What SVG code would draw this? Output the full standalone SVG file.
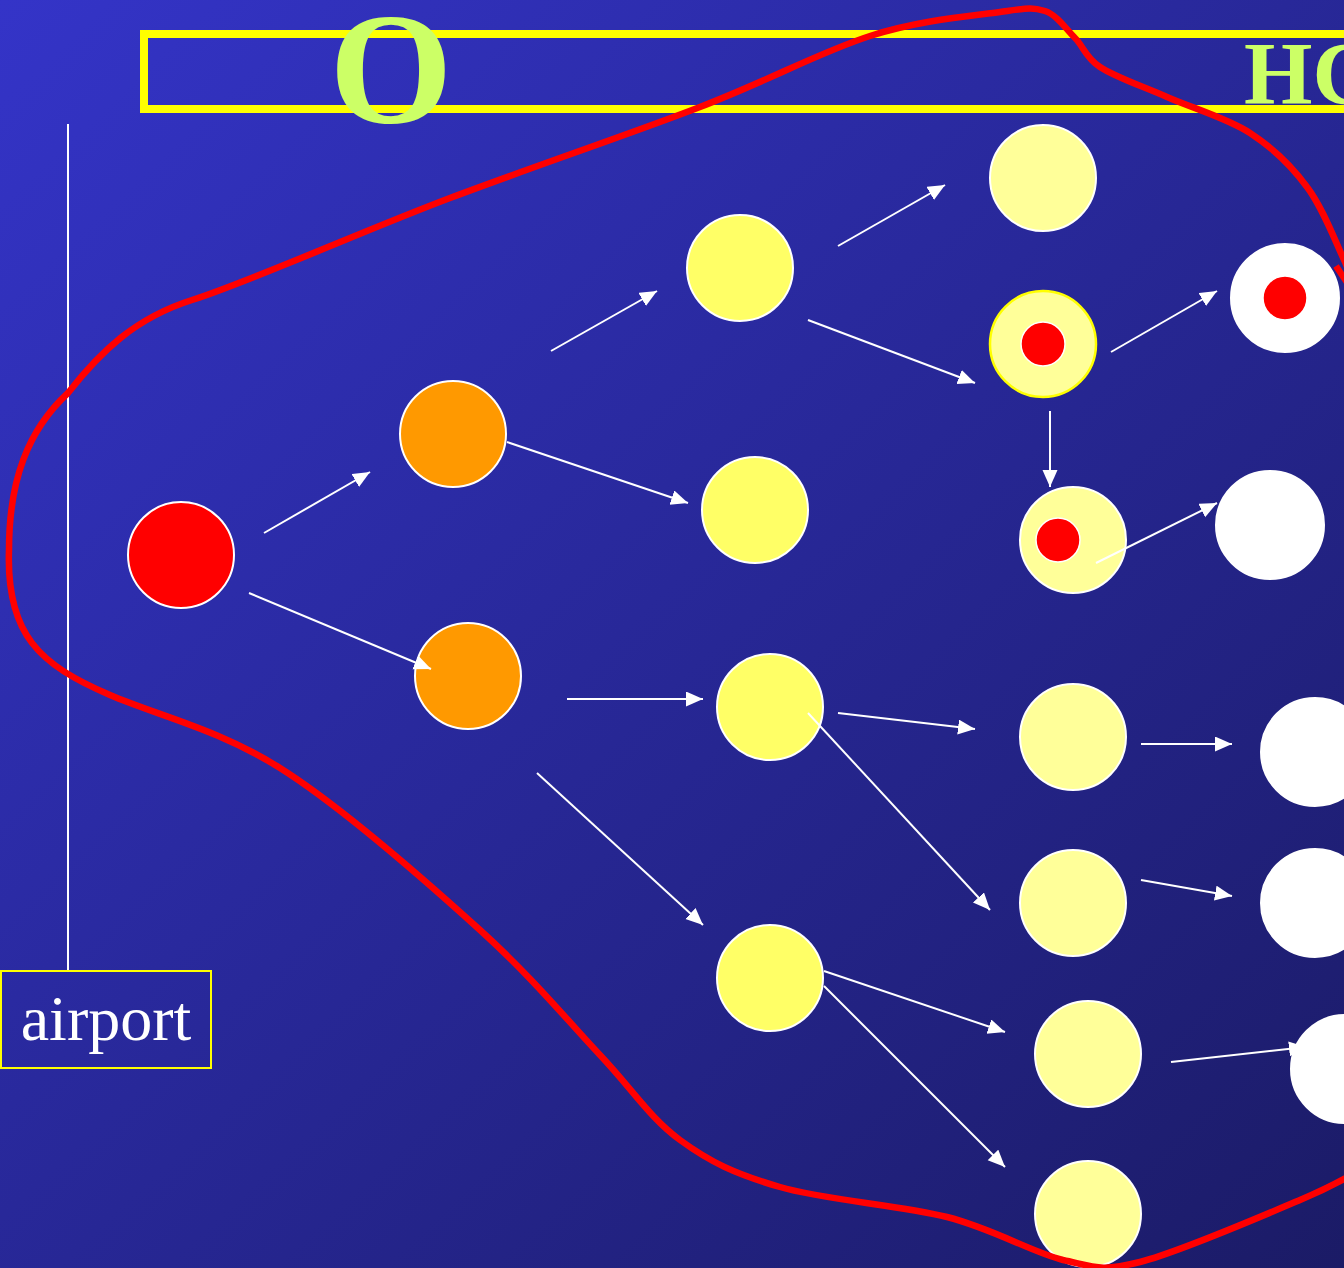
<svg xmlns="http://www.w3.org/2000/svg" width="1344" height="1268" viewBox="0 0 1344 1268">
<defs>
<linearGradient id="bg" x1="0" y1="0" x2="1" y2="1">
<stop offset="0" stop-color="#3434C8"/>
<stop offset="1" stop-color="#1B1B66"/>
</linearGradient>
<marker id="ah" markerUnits="userSpaceOnUse" markerWidth="18" markerHeight="16" refX="17" refY="7.5" orient="auto">
<path d="M0,0 L17,7.5 L0,15 z" fill="#FFFFFF"/>
</marker>
<style>
.n{stroke:#FFFFFF;stroke-width:2}
.red{fill:#FF0000}
.org{fill:#FF9900}
.yel{fill:#FFFF66}
.pal{fill:#FFFF99}
.wht{fill:#FFFFFF}
.inner{fill:#FF0000;stroke:#FFFFFF;stroke-width:1.5}
.c line{stroke:#FFFFFF;stroke-width:2;marker-end:url(#ah)}
.title{font-family:"Liberation Serif","Times New Roman",serif;font-weight:bold;fill:#CCFF66}
</style>
</defs>
<rect x="0" y="0" width="1344" height="1268" fill="url(#bg)"/>

<g id="title">
<rect x="144" y="34" width="1260" height="75" fill="none" stroke="#FFFF00" stroke-width="8"/>
<text class="title" x="391" y="122" font-size="158" text-anchor="middle">O</text>
<text class="title" x="1244" y="103" font-size="88">HC</text>
</g>

<g id="airport">
<line x1="68" y1="124" x2="68" y2="971" stroke="#FFFFFF" stroke-width="2"/>
<rect x="1" y="971" width="210" height="97" fill="none" stroke="#FFFF00" stroke-width="2"/>
<text x="106" y="1040" font-family="Liberation Serif, Times New Roman, serif" font-size="64" fill="#FFFFFF" text-anchor="middle">airport</text>
</g>

<g id="n1"><circle class="n red" cx="181" cy="555" r="53"/></g>
<g id="n2"><circle class="n org" cx="453" cy="434" r="53"/></g>
<g id="n3"><circle class="n org" cx="468" cy="676" r="53"/></g>
<g id="n4"><circle class="n yel" cx="740" cy="268" r="53"/></g>
<g id="n5"><circle class="n yel" cx="755" cy="510" r="53"/></g>
<g id="n6"><circle class="n yel" cx="770" cy="707" r="53"/></g>
<g id="n7"><circle class="n yel" cx="770" cy="978" r="53"/></g>
<g id="n8"><circle class="n pal" cx="1043" cy="178" r="53"/></g>
<g id="n9"><circle class="pal" cx="1043" cy="344" r="53" stroke="#FFFF00" stroke-width="2.5"/><circle class="inner" cx="1043" cy="344" r="22"/></g>
<g id="n10"><circle class="n pal" cx="1073" cy="540" r="53"/><circle class="inner" cx="1058" cy="540" r="22"/></g>
<g id="n11"><circle class="n wht" cx="1285" cy="298" r="54"/><circle class="inner" cx="1285" cy="298" r="22"/></g>
<g id="n12"><circle class="n wht" cx="1270" cy="525" r="54"/></g>
<g id="n13"><circle class="n pal" cx="1073" cy="737" r="53"/></g>
<g id="n14"><circle class="n pal" cx="1073" cy="903" r="53"/></g>
<g id="n15"><circle class="n pal" cx="1088" cy="1054" r="53"/></g>
<g id="n16"><circle class="n pal" cx="1088" cy="1214" r="53"/></g>
<g id="n17"><circle class="n wht" cx="1315" cy="752" r="54"/></g>
<g id="n18"><circle class="n wht" cx="1315" cy="903" r="54"/></g>
<g id="n19"><circle class="n wht" cx="1345" cy="1069" r="54"/></g>

<g id="connectors" class="c">
<line x1="264" y1="533" x2="370" y2="472"/>
<line x1="249" y1="593" x2="431" y2="669"/>
<line x1="507" y1="442" x2="688" y2="503"/>
<line x1="551" y1="351" x2="657" y2="291"/>
<line x1="567" y1="699" x2="703" y2="699"/>
<line x1="537" y1="773" x2="703" y2="925"/>
<line x1="838" y1="246" x2="945" y2="185"/>
<line x1="808" y1="320" x2="975" y2="383"/>
<line x1="1111" y1="352" x2="1217" y2="291"/>
<line x1="1050" y1="411" x2="1050" y2="487"/>
<line x1="1096" y1="563" x2="1217" y2="503"/>
<line x1="838" y1="713" x2="975" y2="729"/>
<line x1="808" y1="713" x2="990" y2="910"/>
<line x1="1141" y1="744" x2="1232" y2="744"/>
<line x1="1141" y1="880" x2="1232" y2="896"/>
<line x1="1171" y1="1062" x2="1306" y2="1047"/>
<line x1="824" y1="971" x2="1005" y2="1032"/>
<line x1="824" y1="986" x2="1005" y2="1167"/>
</g>

<g id="boundary" fill="none" stroke="#FF0000" stroke-width="6.5" stroke-linecap="butt">
<path d="M1390,1150 C1367,1167 1340,1183 1300,1200 C1260,1217 1179,1252 1140,1262 C1100,1272 1095,1267 1063,1260 C1031,1252 994,1229 947,1217 C900,1205 824,1200 780,1187 C735,1174 710,1162 680,1140 C650,1118 633,1090 600,1055 C567,1020 533,978 480,930 C427,882 342,807 280,768 C218,729 159,716 110,695 C40,665 6,635 9,550 C9,480 28,430 68,393 C100,352 135,318 192,300 C249,282 365,230 450,198 C535,166 630,134 700,107 C770,80 820,52 870,36 C920,20 971,16 1000,12 C1029,8 1032,7 1045,11 C1057,15 1066,29 1075,38 C1084,47 1085,57 1100,67 C1115,77 1142,86 1167,97 C1192,108 1227,118 1250,133 C1273,148 1291,165 1307,187 C1323,208 1335,241 1345,262 L1365,310"/>
<path d="M1336,266 L1352,290"/>
</g>
</svg>
